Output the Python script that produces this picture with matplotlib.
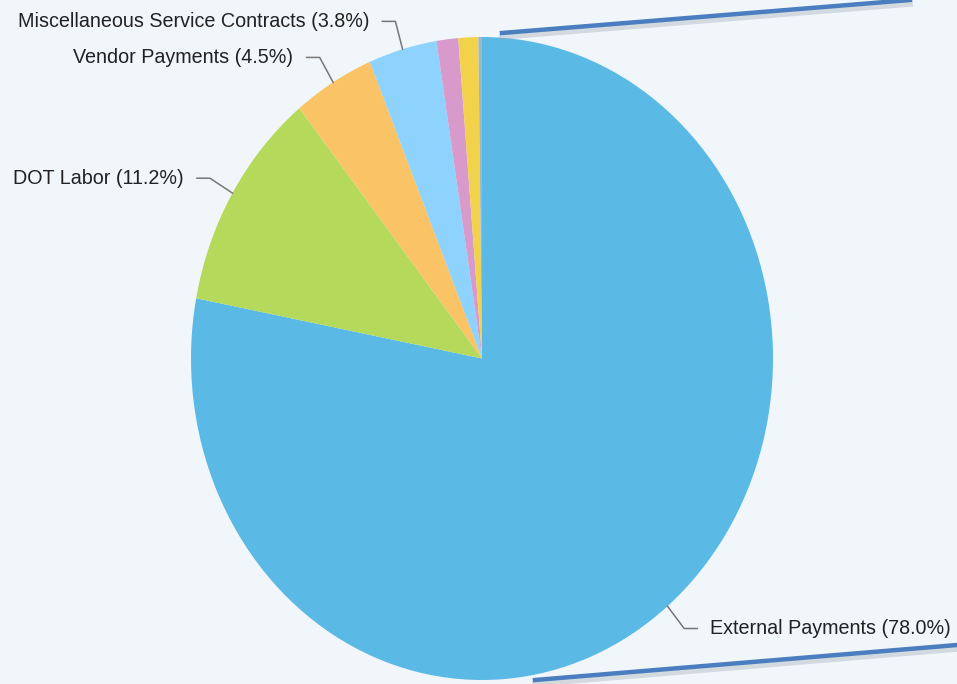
import numpy as np
import matplotlib
matplotlib.use("Agg")
import matplotlib.pyplot as plt
from matplotlib.lines import Line2D

plt.rcParams["font.family"] = ["Liberation Sans", "DejaVu Sans"]

# --- data ---
categories = ["External Payments", "DOT Labor", "Vendor Payments",
              "Miscellaneous Service Contracts", "Other A", "Other B", "Other C"]
shares = [78.0, 11.2, 4.5, 3.8, 1.2, 1.1, 0.2]
colors = ["#5BB9E6", "#B5DA5B", "#FAC466", "#8DD3FE", "#D89ACB", "#F2D24A", "#9DB8C4"]
labelled = ["External Payments", "DOT Labor", "Vendor Payments",
            "Miscellaneous Service Contracts"]

BG = "#F1F6FB"
W, H = 957, 684
fig = plt.figure(figsize=(W / 100, H / 100), dpi=100, facecolor=BG)

# pie is slightly stretched vertically in the reference
cx, cy, rx, ry = 482, 358.5, 291, 321.5
ax = fig.add_axes([(cx - rx) / W, (H - cy - ry) / H, 2 * rx / W, 2 * ry / H])
ax.set_facecolor(BG)

wedges, _ = ax.pie(shares, colors=colors, startangle=90, counterclock=False,
                   radius=1.0, wedgeprops=dict(linewidth=0))
ax.set_aspect("auto")
ax.set_xlim(-1, 1)
ax.set_ylim(-1, 1)
ax.axis("off")

total = sum(shares)
cum = 0.0
for name, v in zip(categories, shares):
    mid = cum + v / 2
    cum += v
    if name not in labelled:
        continue
    ang = np.deg2rad(90 - mid / total * 360)
    x0, y0 = np.cos(ang), np.sin(ang)
    x1, y1 = 1.09 * x0, 1.09 * y0
    side = 1 if x0 > 0 else -1
    x2 = x1 + side * 0.045
    ax.add_line(Line2D([x0, x1, x2], [y0, y1, y1], color="#777777",
                       linewidth=1.1, clip_on=False))
    ax.text(x2 + side * 0.045, y1, f"{name} ({v:.1f}%)",
            ha="left" if side > 0 else "right", va="center",
            fontsize=14.2, color="#222222", clip_on=False)

# decorative callout frame edges
for (xa, ya), (xb, yb) in [((502, 33), (910, 0)), ((535, 680), (957, 645))]:
    fig.add_artist(Line2D([xa / W, xb / W], [1 - (ya + 4) / H, 1 - (yb + 4) / H],
                          color="#9AA3AD", linewidth=4, alpha=0.35))
    fig.add_artist(Line2D([xa / W, xb / W], [1 - ya / H, 1 - yb / H],
                          color="#4A7EBF", linewidth=3.2))

fig.savefig("out.png", dpi=100, facecolor=BG)
